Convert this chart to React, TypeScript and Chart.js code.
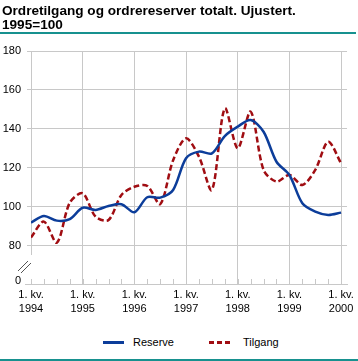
import React, { useEffect, useRef } from "react";
import { Chart, registerables } from "chart.js";

Chart.register(...registerables);

const quarters: number[] = Array.from({ length: 25 }, (_, i) => i);
const yearLabels = ["1994", "1995", "1996", "1997", "1998", "1999", "2000"];
const reserve = [92, 95.4, 93, 93.8, 99.6, 98.5, 100.5, 101.4, 97.3, 105, 104.8, 108.7, 125, 128.4, 127.5, 136.4, 141.2, 144.6, 138.6, 123.2, 116.4, 101.9, 97.6, 95.9, 97.1];
const tilgang = [84.4, 92.5, 81.7, 102.2, 107, 95, 93.3, 106.2, 110.4, 110.8, 101.5, 124, 135.2, 125.8, 108.7, 150.6, 130.1, 148.9, 119, 113, 116.4, 111.3, 119, 133.5, 122.4];
const yTicks = [62, 80, 100, 120, 140, 160, 180];

const GRID = "#c8c8c8";
const BLUE = "#0c3d9a";
const RED = "#a00d12";
const TEAL = "#17918f";
const FONT = "'Liberation Sans', Arial, sans-serif";

const axisExtras = {
  id: "axisExtras",
  afterDraw(chart: any) {
    const { ctx, chartArea, scales } = chart;
    const x = scales.x;
    const bottom = chartArea.bottom;
    ctx.save();
    ctx.strokeStyle = GRID;
    ctx.lineWidth = 1;
    quarters.forEach((q) => {
      const px = Math.round(x.getPixelForValue(q)) + 0.5;
      ctx.beginPath();
      ctx.moveTo(px, bottom - 5);
      ctx.lineTo(px, bottom);
      ctx.stroke();
    });
    ctx.beginPath();
    ctx.moveTo(chartArea.left - 6, bottom + 0.5);
    ctx.lineTo(chartArea.left, bottom + 0.5);
    ctx.stroke();
    const left = Math.round(x.getPixelForValue(0));
    ctx.fillStyle = "#ffffff";
    ctx.fillRect(left - 2, bottom - 29, 4, 24);
    ctx.strokeStyle = "#555555";
    ctx.lineWidth = 1;
    ctx.beginPath();
    ctx.moveTo(left - 13, bottom - 13);
    ctx.lineTo(left - 3, bottom - 23);
    ctx.moveTo(left - 10, bottom - 11);
    ctx.lineTo(left, bottom - 21);
    ctx.stroke();
    ctx.restore();
  },
};

function LineChart() {
  const ref = useRef<HTMLCanvasElement>(null);
  useEffect(() => {
    if (!ref.current) return;
    const chart = new Chart(ref.current, {
      type: "line",
      data: {
        datasets: [
          {
            label: "Reserve",
            data: quarters.map((q, i) => ({ x: q, y: reserve[i] })),
            borderColor: BLUE,
            borderWidth: 2.5,
            pointRadius: 0,
            tension: 0.3,
            fill: false,
          },
          {
            label: "Tilgang",
            data: quarters.map((q, i) => ({ x: q, y: tilgang[i] })),
            borderColor: RED,
            borderWidth: 2.5,
            borderDash: [6, 3],
            pointRadius: 0,
            tension: 0.3,
            fill: false,
          },
        ],
      },
      options: {
        animation: false,
        responsive: false,
        devicePixelRatio: 1,
        layout: { padding: { top: 51, right: 9, bottom: 0, left: 0 } },
        plugins: { legend: { display: false }, tooltip: { enabled: false } },
        scales: {
          x: {
            type: "linear",
            min: 0,
            max: 24.46,
            afterBuildTicks: (s: any) => {
              s.ticks = quarters.map((q) => ({ value: q }));
            },
            afterFit: (s: any) => {
              s.height = 46;
            },
            grid: {
              color: (c: any) => (c.tick && c.tick.value % 4 === 0 ? GRID : "rgba(0,0,0,0)"),
              drawTicks: false,
            },
            border: { display: true, color: GRID },
            ticks: {
              autoSkip: false,
              maxRotation: 0,
              padding: 4,
              color: "#000",
              font: { family: FONT, size: 11, lineHeight: 1.27 },
              callback: (v: any) => {
                const n = Number(v);
                return n % 4 === 0 ? ["1. kv.", yearLabels[n / 4]] : "";
              },
            },
          },
          y: {
            min: 60.5,
            max: 180,
            afterBuildTicks: (s: any) => {
              s.ticks = yTicks.map((v) => ({ value: v }));
            },
            afterFit: (s: any) => {
              s.width = 31;
            },
            grid: {
              color: (c: any) => (c.tick && c.tick.value === 62 ? "rgba(0,0,0,0)" : GRID),
              tickLength: 4,
            },
            border: { display: false },
            ticks: {
              padding: 6,
              color: "#000",
              font: { family: FONT, size: 11 },
              callback: (v: any) => (Number(v) === 62 ? "0" : String(v)),
            },
          },
        },
      },
      plugins: [axisExtras],
    });
    return () => chart.destroy();
  }, []);
  return (
    <canvas
      ref={ref}
      width={358}
      height={330}
      style={{ position: "absolute", left: 0, top: 0, width: 358, height: 330 }}
    />
  );
}

export default function App() {
  const dash = (left: number) => (
    <div style={{ position: "absolute", left, top: 341, width: 5, height: 3, background: RED }} />
  );
  return (
    <div style={{ position: "absolute", left: 0, top: 0, width: 358, height: 361, background: "#fff", overflow: "hidden", fontFamily: FONT }}>
      <LineChart />
      <div style={{ position: "absolute", left: 2, top: 4, fontSize: 13.6, fontWeight: "bold", lineHeight: "14px", color: "#000", whiteSpace: "nowrap" }}>
        Ordretilgang og ordrereserver totalt. Ujustert.
        <br />
        1995=100
      </div>
      <div style={{ position: "absolute", left: 0, top: 32, width: 356, height: 2, background: TEAL }} />
      <div style={{ position: "absolute", left: 103, top: 341, width: 21, height: 3, background: BLUE }} />
      <div style={{ position: "absolute", left: 133, top: 335, fontSize: 11, lineHeight: "14px", color: "#000" }}>Reserve</div>
      {dash(209)}
      {dash(217)}
      {dash(225)}
      <div style={{ position: "absolute", left: 243, top: 335, fontSize: 11, lineHeight: "14px", color: "#000" }}>Tilgang</div>
      <div style={{ position: "absolute", left: 0, top: 359, width: 358, height: 2, background: TEAL }} />
    </div>
  );
}
